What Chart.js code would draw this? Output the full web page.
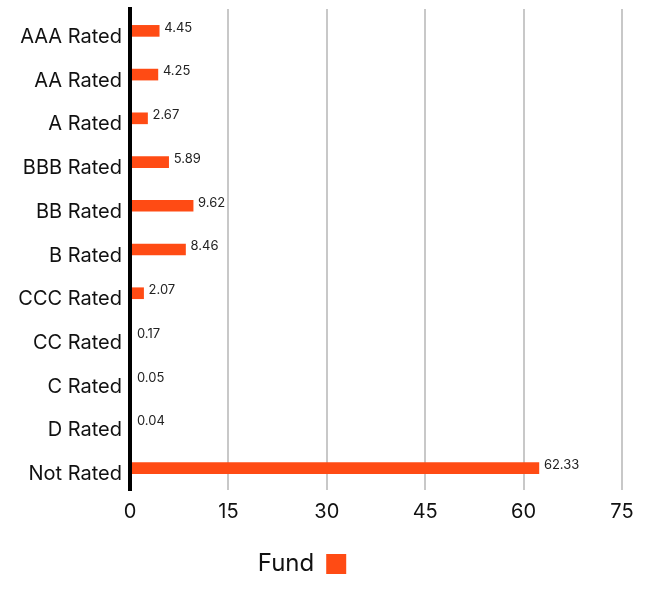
<!DOCTYPE html>
<html>
<head>
<meta charset="utf-8">
<script src="https://cdn.jsdelivr.net/npm/chart.js@4"></script>
<style>
  html, body { margin: 0; padding: 0; background: #fff; }
  #wrap { width: 650px; height: 590px; }
</style>
</head>
<body>
<div id="wrap"><canvas id="chart" width="650" height="590"></canvas></div>
<script>
const categories = ['AAA Rated', 'AA Rated', 'A Rated', 'BBB Rated', 'BB Rated', 'B Rated',
  'CCC Rated', 'CC Rated', 'C Rated', 'D Rated', 'Not Rated'];
const fundValues = [4.45, 4.25, 2.67, 5.89, 9.62, 8.46, 2.07, 0.17, 0.05, 0.04, 62.33];
const xTicks = [0, 15, 30, 45, 60, 75];

const FONT = 'Inter, "Liberation Sans", sans-serif';

// value labels at the end of each bar
const valueLabels = {
  id: 'valueLabels',
  afterDatasetsDraw(chart) {
    const ctx = chart.ctx;
    const meta = chart.getDatasetMeta(0);
    ctx.save();
    ctx.font = '13px ' + FONT;
    ctx.fillStyle = '#222';
    ctx.textAlign = 'left';
    ctx.textBaseline = 'middle';
    meta.data.forEach((bar, i) => {
      ctx.fillText(fundValues[i].toFixed(2), Math.max(bar.x, chart.chartArea.left + 2) + 5, bar.y - 3);
    });
    ctx.restore();
  }
};

new Chart(document.getElementById('chart'), {
  type: 'bar',
  data: {
    labels: categories,
    datasets: [{
      label: 'Fund',
      data: fundValues,
      backgroundColor: '#ff4b14',
      barThickness: 11
    }]
  },
  options: {
    indexAxis: 'y',
    responsive: false,
    animation: false,
    layout: { padding: { top: 9, right: 28, left: -18, bottom: 4 } },
    plugins: {
      tooltip: { enabled: false },
      legend: {
        position: 'bottom',
        rtl: true,
        labels: {
          boxWidth: 20,
          boxHeight: 20,
          color: '#111',
          font: { family: FONT, size: 24 },
          padding: 10
        }
      }
    },
    scales: {
      x: {
        min: 0,
        max: 75,
        afterBuildTicks: s => { s.ticks = xTicks.map(v => ({ value: v })); },
        grid: { color: '#c8c8c8', lineWidth: 2, drawTicks: false },
        border: { display: false },
        ticks: { color: '#111', font: { family: FONT, size: 20 }, padding: 10 },
        afterFit: s => { s.height = 52; }
      },
      y: {
        grid: { display: false, drawTicks: false },
        border: { display: true, color: '#000', width: 4, z: 1 },
        ticks: { color: '#111', font: { family: FONT, size: 20 }, padding: 8, labelOffset: 6 },
        afterFit: s => {
          s.width = 148;
          s.paddingTop = 0;
          s.paddingBottom = 0;
        }
      }
    }
  },
  plugins: [valueLabels]
});
</script>
</body>
</html>
